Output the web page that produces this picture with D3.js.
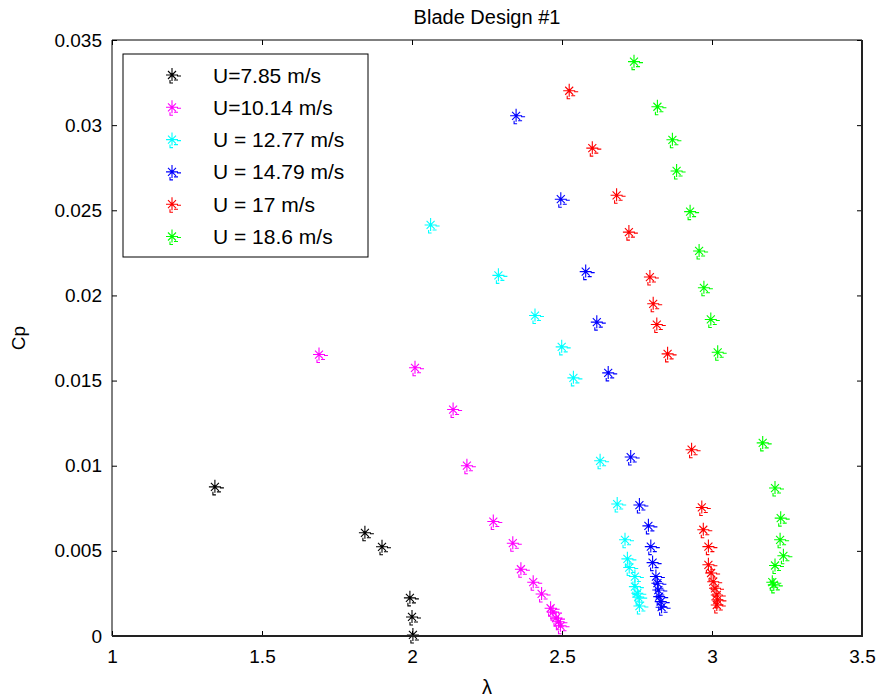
<!DOCTYPE html>
<html>
<head>
<meta charset="utf-8">
<script src="https://cdn.jsdelivr.net/npm/d3@7"></script>
<style>
  body { margin: 0; background: #fff; }
  svg { font-family: Arial, "Liberation Sans", sans-serif; }
</style>
</head>
<body>
<svg id="chart" width="884" height="698"></svg>
<script>
// series labels and colours, in legend order
const seriesNames = ['U=7.85 m/s', 'U=10.14 m/s', 'U = 12.77 m/s', 'U = 14.79 m/s', 'U = 17 m/s', 'U = 18.6 m/s'];
const seriesColors = ['#000000', '#ff00ff', '#00ffff', '#0000ff', '#ff0000', '#00ff00'];

// tip speed ratio (lambda) and power coefficient per wind speed
const lam785 = [1.343, 1.843, 1.900, 1.993, 2.000, 2.003];
const cp785 = [0.00876, 0.00606, 0.00524, 0.00224, 0.00112, 0.00006];

const lam1014 = [1.690, 2.010, 2.137, 2.183, 2.271, 2.336, 2.363, 2.404, 2.432, 2.462, 2.470, 2.480, 2.488, 2.495];
const cp1014 = [0.01653, 0.01575, 0.0133, 0.0100, 0.00672, 0.00545, 0.00392, 0.00316, 0.00247, 0.00163, 0.00140, 0.00105, 0.00084, 0.00060];

const lam1277 = [2.062, 2.288, 2.410, 2.499, 2.538, 2.627, 2.684, 2.710, 2.718, 2.724, 2.743, 2.743, 2.751, 2.754, 2.758];
const cp1277 = [0.02414, 0.02118, 0.01882, 0.01698, 0.01516, 0.01029, 0.00775, 0.00565, 0.00453, 0.00402, 0.00349, 0.00290, 0.00251, 0.00228, 0.00176];

const lam1479 = [2.347, 2.496, 2.579, 2.616, 2.654, 2.729, 2.758, 2.788, 2.796, 2.802, 2.813, 2.818, 2.821, 2.824, 2.829, 2.832];
const cp1479 = [0.03055, 0.02565, 0.0214, 0.01843, 0.01545, 0.01051, 0.00769, 0.00647, 0.00525, 0.00431, 0.00349, 0.00310, 0.00270, 0.00231, 0.00202, 0.00169];

const lam17 = [2.524, 2.601, 2.682, 2.723, 2.793, 2.804, 2.816, 2.852, 2.932, 2.966, 2.971, 2.988, 2.988, 2.997, 3.004, 3.010, 3.016, 3.018, 3.016];
const cp17 = [0.03202, 0.02865, 0.02588, 0.02372, 0.02108, 0.01951, 0.01829, 0.01657, 0.01094, 0.00755, 0.00624, 0.00525, 0.00418, 0.00370, 0.00319, 0.00280, 0.00241, 0.00212, 0.00182];

const lam186 = [2.740, 2.818, 2.868, 2.882, 2.927, 2.957, 2.973, 2.996, 3.019, 3.169, 3.210, 3.229, 3.227, 3.238, 3.210, 3.201, 3.206];
const cp186 = [0.03373, 0.03108, 0.02914, 0.02731, 0.02492, 0.02261, 0.02045, 0.01859, 0.01666, 0.01134, 0.00869, 0.00692, 0.00565, 0.00471, 0.00414, 0.00316, 0.00300];

const xTicks = [1, 1.5, 2, 2.5, 3, 3.5];
const yTicks = [0, 0.005, 0.01, 0.015, 0.02, 0.025, 0.03, 0.035];

const allLam = [lam785, lam1014, lam1277, lam1479, lam17, lam186];
const allCp = [cp785, cp1014, cp1277, cp1479, cp17, cp186];

const svg = d3.select('#chart');
const margin = { top: 40, right: 22, bottom: 62, left: 112 };
const W = 884, H = 698;

const x = d3.scaleLinear().domain([1, 3.5]).range([margin.left, W - margin.right]);
const y = d3.scaleLinear().domain([0, 0.035]).range([H - margin.bottom, margin.top]);

// asterisk marker with the little smear marks of the original export
const starPath = 'M-6,0H6M0,-7V6M-4,-4L4,4M-4,4L4,-4M5,1H9M-2,5V8H1M2,5H6';

const series = seriesNames.map((name, i) => ({
  name,
  color: seriesColors[i],
  points: allLam[i].map((l, j) => ({ l, c: allCp[i][j] }))
}));

// points
const pts = svg.append('g');
series.forEach(s => {
  pts.selectAll(null).data(s.points).enter().append('path')
    .attr('d', starPath)
    .attr('transform', d => `translate(${x(d.l)},${y(d.c)})`)
    .attr('fill', 'none')
    .attr('stroke', s.color)
    .attr('stroke-width', 1.1);
});

// axes box with inward ticks on all sides
const x0 = x.range()[0], x1 = x.range()[1];
const y0 = y.range()[0], y1 = y.range()[1];
const tickLen = 5;

svg.append('g')
  .attr('transform', `translate(0,${y0})`)
  .call(d3.axisBottom(x).tickValues(xTicks).tickSize(-tickLen).tickPadding(14).tickFormat(d3.format('')))
  .call(g => g.select('.domain').remove())
  .call(g => g.selectAll('text').attr('font-size', 19).attr('fill', '#000'));

svg.append('g')
  .attr('transform', `translate(0,${y1})`)
  .call(d3.axisTop(x).tickValues(xTicks).tickSize(-tickLen).tickFormat(''))
  .call(g => g.select('.domain').remove());

svg.append('g')
  .attr('transform', `translate(${x0},0)`)
  .call(d3.axisLeft(y).tickValues(yTicks).tickSize(-tickLen).tickPadding(10).tickFormat(d => d === 0 ? '0' : d3.format('')(+d.toFixed(3))))
  .call(g => g.select('.domain').remove())
  .call(g => g.selectAll('text').attr('font-size', 19).attr('fill', '#000'));

svg.append('g')
  .attr('transform', `translate(${x1},0)`)
  .call(d3.axisRight(y).tickValues(yTicks).tickSize(-tickLen).tickFormat(''))
  .call(g => g.select('.domain').remove());

svg.append('path')
  .attr('d', `M${x0},${y0}V${y1}H${x1}`)
  .attr('fill', 'none').attr('stroke', '#000').attr('stroke-width', 1);
svg.append('path')
  .attr('d', `M${x0},${y0}H${x1}V${y1}`)
  .attr('fill', 'none').attr('stroke', '#222').attr('stroke-width', 2);

// title and axis labels
svg.append('text')
  .attr('x', (x0 + x1) / 2).attr('y', 24)
  .attr('text-anchor', 'middle').attr('font-size', 20)
  .text('Blade Design #1');

svg.append('text')
  .attr('x', (x0 + x1) / 2).attr('y', 694)
  .attr('text-anchor', 'middle').attr('font-size', 20)
  .text('λ');

svg.append('text')
  .attr('transform', `translate(25,${(y0 + y1) / 2}) rotate(-90)`)
  .attr('text-anchor', 'middle').attr('font-size', 19)
  .text('Cp');

// legend
const legend = svg.append('g');
legend.append('rect')
  .attr('x', 123).attr('y', 54).attr('width', 245).attr('height', 203)
  .attr('fill', '#fff').attr('stroke', '#000').attr('stroke-width', 1);

const items = legend.selectAll('g.item').data(series).enter().append('g')
  .attr('transform', (d, i) => `translate(0,${75 + i * 32.3})`);
items.append('path')
  .attr('d', starPath)
  .attr('transform', 'translate(172,0)')
  .attr('fill', 'none')
  .attr('stroke', d => d.color)
  .attr('stroke-width', 1.1);
items.append('text')
  .attr('x', 213).attr('dy', '0.36em')
  .attr('font-size', 21)
  .text(d => d.name);
</script>
</body>
</html>
